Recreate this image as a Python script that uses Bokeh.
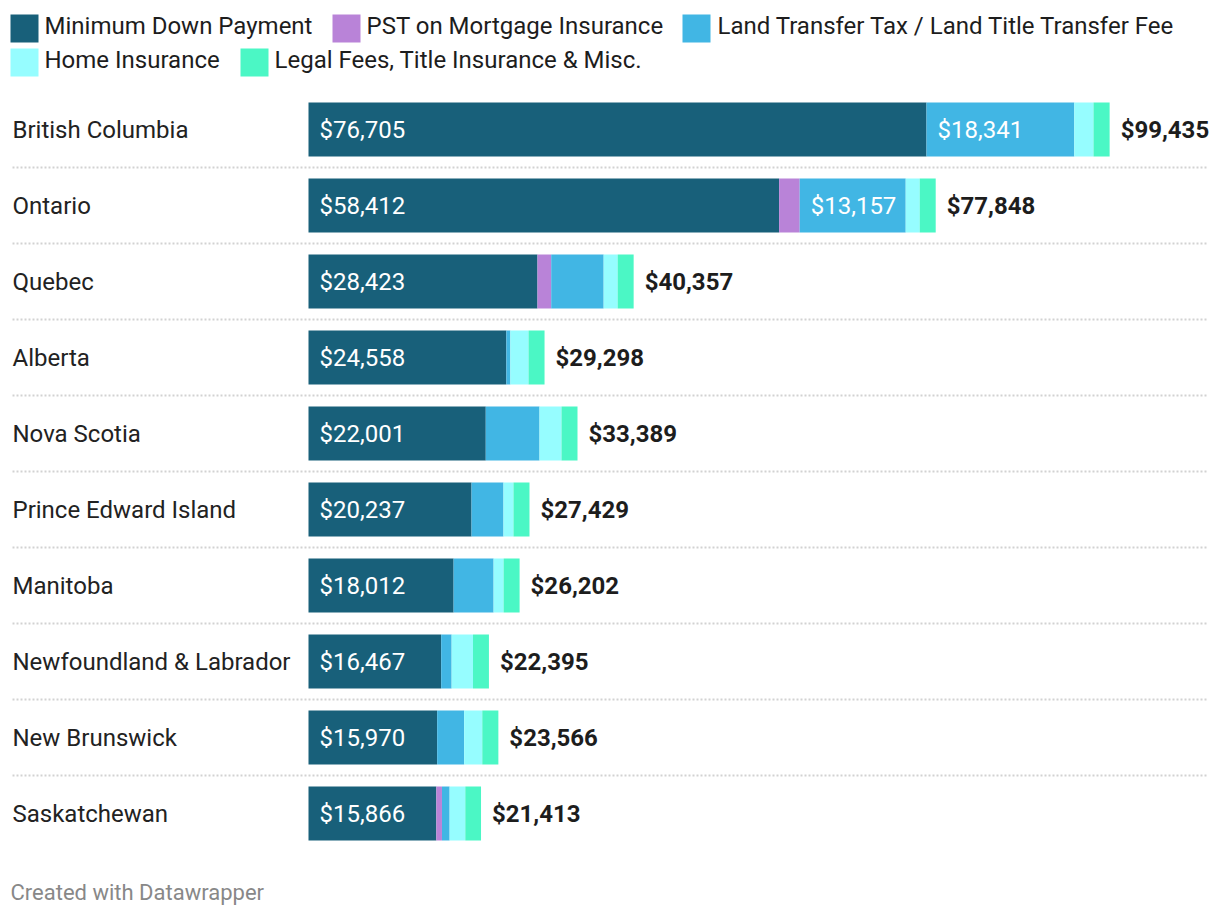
from bokeh.plotting import figure
from bokeh.models import Range1d
from bokeh.embed import file_html
from bokeh.resources import INLINE
from bokeh.core.properties import value

# ---------------- data ----------------
provinces = ["British Columbia", "Ontario", "Quebec", "Alberta", "Nova Scotia",
             "Prince Edward Island", "Manitoba", "Newfoundland & Labrador",
             "New Brunswick", "Saskatchewan"]
down_payment = [76705, 58412, 28423, 24558, 22001, 20237, 18012, 16467, 15970, 15866]
pst_mortgage = [0, 2556, 1700, 0, 0, 0, 0, 0, 0, 700]
land_transfer = [18341, 13157, 6511, 500, 6672, 3965, 4963, 1300, 3350, 950]
home_insurance = [2389, 1737, 1737, 2254, 2730, 1241, 1241, 2650, 2250, 1947]
legal_fees = [2000, 1986, 1986, 1986, 1986, 1986, 1986, 1978, 1996, 1950]
totals = [99435, 77848, 40357, 29298, 33389, 27429, 26202, 22395, 23566, 21413]

series_names = ["Minimum Down Payment", "PST on Mortgage Insurance",
                "Land Transfer Tax / Land Title Transfer Fee", "Home Insurance",
                "Legal Fees, Title Insurance & Misc."]
series_values = [down_payment, pst_mortgage, land_transfer, home_insurance, legal_fees]
colors = ["#18607a", "#b983d8", "#41b6e4", "#96fdff", "#4bf7c5"]
footer = "Created with Datawrapper"

# ---------------- layout ----------------
W, H = 1212, 910
X0 = 308                 # screen px of $0
K = 76705 / 618          # dollars per pixel
FONT = value("Roboto")


def sx(px):
    return (px - X0) * K


p = figure(width=W, height=H, output_backend="svg", toolbar_location=None,
           x_range=Range1d(sx(0), sx(W)), y_range=Range1d(H, 0),
           x_axis_location=None, y_axis_location=None,
           min_border=0, min_border_left=0, min_border_right=0,
           min_border_top=0, min_border_bottom=0)
p.grid.visible = False
p.outline_line_color = None
p.background_fill_color = "white"
p.border_fill_color = "white"

n = len(provinces)
row_y = [129 + 76 * i for i in range(n)]
BAR_H = 54

# separators
sep_y = [row_y[i] + 38 for i in range(n - 1)]
p.segment(x0=[sx(12)] * len(sep_y), x1=[sx(1208)] * len(sep_y), y0=sep_y, y1=sep_y,
          line_color="#d2d2d2", line_width=2, line_dash="2 2")

# stacked bars
left = [0] * n
lefts_all = []
for vals, col in zip(series_values, colors):
    right = [l + v for l, v in zip(left, vals)]
    lefts_all.append(list(left))
    p.hbar(y=row_y, left=left, right=right, height=BAR_H, fill_color=col,
           line_color=None)
    left = right

# province labels
p.text(x=[sx(12)] * n, y=row_y, text=provinces, text_font=FONT,
       text_font_size="24px", text_baseline="middle", text_color="#222222")

# inside labels: down payment
p.text(x=[sx(X0 + 11)] * n, y=row_y, text=[f"${v:,}" for v in down_payment],
       text_font=FONT, text_font_size="24px", text_baseline="middle",
       text_color="white")

# inside labels: land transfer (wide segments only)
lt_x, lt_y, lt_t = [], [], []
for i in range(n):
    if land_transfer[i] > 10000:
        lt_x.append(lefts_all[2][i] + 11 * K)
        lt_y.append(row_y[i])
        lt_t.append(f"${land_transfer[i]:,}")
p.text(x=lt_x, y=lt_y, text=lt_t, text_font=FONT, text_font_size="24px",
       text_baseline="middle", text_color="white")

# totals
p.text(x=[t + 11 * K for t in totals], y=row_y, text=[f"${t:,}" for t in totals],
       text_font=FONT, text_font_size="24px", text_font_style="bold",
       text_baseline="middle", text_color="#1d1d1d")

# legend
leg_sq = [10, 332, 682, 10, 240]
leg_tx = [44, 366, 717, 44, 274]
leg_row = [28, 28, 28, 62, 62]
p.quad(left=[sx(a) for a in leg_sq], right=[sx(a + 28) for a in leg_sq],
       top=[r - 14 for r in leg_row], bottom=[r + 14 for r in leg_row],
       fill_color=colors, line_color=None)
p.text(x=[sx(a) for a in leg_tx], y=[r - 2.5 for r in leg_row], text=series_names,
       text_font=FONT, text_font_size="24px", text_baseline="middle",
       text_color="#1d1d1d")

# footer
p.text(x=[sx(10)], y=[892], text=[footer], text_font=FONT, text_font_size="22px",
       text_baseline="middle", text_color="#888888")

open("out.html", "w").write(file_html(p, INLINE))
